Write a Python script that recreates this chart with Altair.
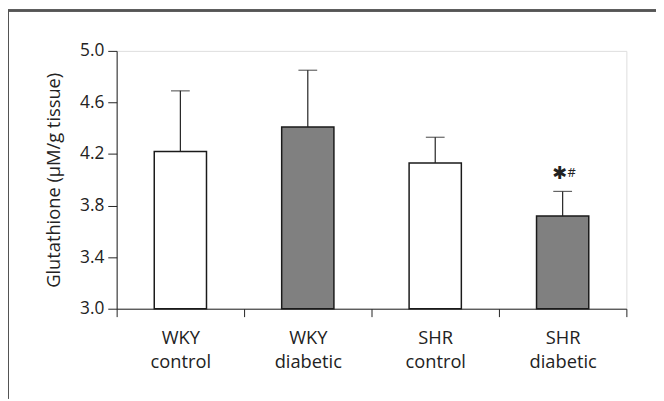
import altair as alt
import pandas as pd

groups = ["WKY control", "WKY diabetic", "SHR control", "SHR diabetic"]
means = [4.22, 4.41, 4.13, 3.72]
errors = [0.47, 0.44, 0.20, 0.19]
fills = ["#ffffff", "#808080", "#ffffff", "#808080"]
star_marks = ["", "", "", "\u2731"]
hash_marks = ["", "", "", "#"]
y_ticks = [3.0, 3.4, 3.8, 4.2, 4.6, 5.0]
y_min = 3.0

df = pd.DataFrame({
    "group": groups,
    "mean": means,
    "top": [m + e for m, e in zip(means, errors)],
    "fill": fills,
    "star": star_marks,
    "hash": hash_marks,
})

FONT = "Open Sans"
INK = "#222222"

x = alt.X("group:N", sort=groups,
          scale=alt.Scale(paddingInner=0, paddingOuter=0),
          axis=alt.Axis(title=None, labelAngle=0, tickBand="extent",
                        labelExpr="split(datum.label, ' ')",
                        labelFontSize=18.5, labelFont=FONT, labelColor=INK,
                        labelLineHeight=25, labelPadding=12,
                        tickSize=8, tickColor=INK, domainColor=INK,
                        domainWidth=1, tickWidth=1))

y_scale = alt.Scale(domain=[3.0, 5.0], nice=False, zero=False)

bars = alt.Chart(df).mark_bar(
    width=alt.RelativeBandSize(0.41), stroke="#1a1a1a", strokeWidth=1.5
).encode(
    x=x,
    y=alt.Y("mean:Q", scale=y_scale,
            axis=alt.Axis(values=y_ticks, format=".1f",
                          title="Glutathione (µM/g tissue)",
                          titleFont=FONT, titleFontSize=18.5, titleFontWeight="normal",
                          titleColor=INK, titlePadding=16,
                          labelFont=FONT, labelFontSize=17.5, labelColor=INK,
                          labelPadding=4, tickSize=9, tickColor=INK,
                          domainColor=INK, grid=False)),
    y2=alt.datum(y_min),
    fill=alt.Fill("fill:N", scale=None),
)

err_line = alt.Chart(df).mark_rule(color=INK, strokeWidth=1.2).encode(
    x=alt.X("group:N", sort=groups),
    y=alt.Y("mean:Q", scale=y_scale),
    y2="top:Q",
)

err_cap = alt.Chart(df).mark_tick(color=INK, thickness=1.2, size=19).encode(
    x=alt.X("group:N", sort=groups),
    y=alt.Y("top:Q", scale=y_scale),
)

star = alt.Chart(df).mark_text(
    font="DejaVu Sans", fontSize=18, color=INK, dx=-3, dy=-18, baseline="middle"
).encode(
    x=alt.X("group:N", sort=groups),
    y=alt.Y("top:Q", scale=y_scale),
    text="star:N",
)

hashm = alt.Chart(df).mark_text(
    font=FONT, fontSize=13, color=INK, dx=9, dy=-19, baseline="middle"
).encode(
    x=alt.X("group:N", sort=groups),
    y=alt.Y("top:Q", scale=y_scale),
    text="hash:N",
)

frame_top = alt.Chart(df).mark_rule(color="#555555", strokeWidth=2).encode(
    x=alt.value(-110), x2=alt.value(546), y=alt.value(-41)
)
frame_left = alt.Chart(df).mark_rule(color="#555555", strokeWidth=2).encode(
    x=alt.value(-110), y=alt.value(-41), y2=alt.value(352)
)

chart = alt.layer(bars, err_line, err_cap, star, hashm, frame_top, frame_left).properties(
    width=516, height=261,
    autosize=alt.AutoSizeParams(type="none"),
    padding={"left": 110, "top": 41, "right": 30, "bottom": 91},
).configure_view(stroke=None).configure(background="white")

chart.save("out.html", embed_options={"renderer": "svg", "actions": False})
